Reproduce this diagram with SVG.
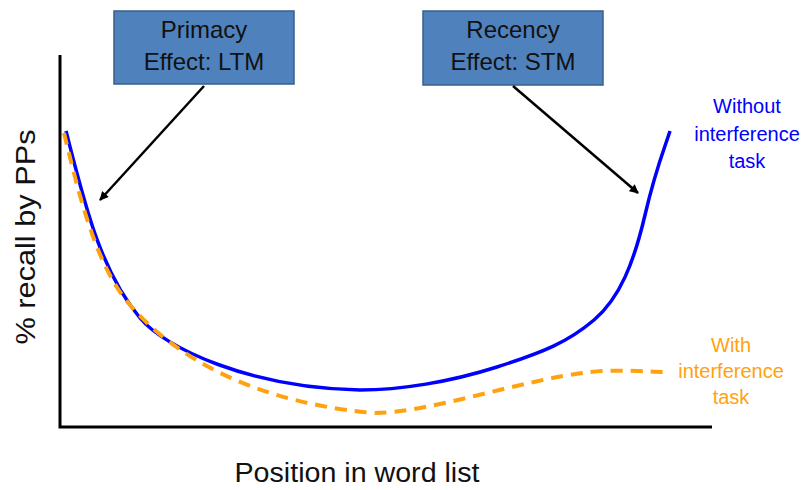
<svg xmlns="http://www.w3.org/2000/svg" width="804" height="490" viewBox="0 0 804 490">
<defs>
<marker id="ah" viewBox="0 0 10 10" refX="9" refY="5" markerWidth="10" markerHeight="9" markerUnits="userSpaceOnUse" orient="auto">
<path d="M0,0 L10,5 L0,10 z" fill="#000"/>
</marker>
<style>
.box{fill:#4F81BD;stroke:#3A5F8B;stroke-width:1.5}
.bt{font-family:"Liberation Sans",Arial,sans-serif;font-size:24px;fill:#111;text-anchor:middle}
.ax{stroke:#000;stroke-width:3;fill:none}
.lbl{font-family:"Liberation Sans",Arial,sans-serif;font-size:27px;fill:#111;text-anchor:middle}
.sm{font-family:"Liberation Sans",Arial,sans-serif;font-size:20px;text-anchor:middle}
.arr{stroke:#000;stroke-width:2.5;fill:none;marker-end:url(#ah)}
</style>
</defs>
<rect width="804" height="490" fill="#fff"/>
<g id="axes">
<path class="ax" d="M60,55 L60,427 L712,427"/>
<text class="lbl" x="357" y="482" textLength="245" lengthAdjust="spacingAndGlyphs">Position in word list</text>
<text class="lbl" transform="translate(35,237) rotate(-90)" x="0" y="0" textLength="215" lengthAdjust="spacingAndGlyphs">% recall by PPs</text>
</g>
<g id="curves">
<path id="without" d="M66,131 C85,205 100,270 140,318 C165,348 250,388 360,390 C400,390 450,382 497,367 S568,342 594,320 S634,262 645,215 S664,150 670,131" fill="none" stroke="#0000FF" stroke-width="3.5"/>
<path id="with" d="M64,133 C78,190 95,265 130,305 C160,340 230,400 373,413 C430,413 520,380 590,372 C620,369 650,372 668,372" fill="none" stroke="#FFA20F" stroke-width="4" stroke-dasharray="12,8"/>
</g>
<g id="primacy">
<rect class="box" x="114" y="11" width="180" height="73"/>
<text class="bt" x="204" y="38">Primacy</text>
<text class="bt" x="204" y="70">Effect: LTM</text>
</g>
<g id="recency">
<rect class="box" x="423" y="11" width="180" height="74"/>
<text class="bt" x="513" y="38">Recency</text>
<text class="bt" x="513" y="70">Effect: STM</text>
</g>
<g id="connectors">
<line class="arr" x1="204" y1="86" x2="100" y2="200"/>
<line class="arr" x1="513" y1="86" x2="638" y2="193"/>
</g>
<g id="label-without">
<text class="sm" fill="#0000FF" x="747" y="113">Without</text>
<text class="sm" fill="#0000FF" x="747" y="141">interference</text>
<text class="sm" fill="#0000FF" x="747" y="168">task</text>
</g>
<g id="label-with">
<text class="sm" fill="#FFA20F" x="731" y="352">With</text>
<text class="sm" fill="#FFA20F" x="731" y="378">interference</text>
<text class="sm" fill="#FFA20F" x="731" y="404">task</text>
</g>
</svg>
